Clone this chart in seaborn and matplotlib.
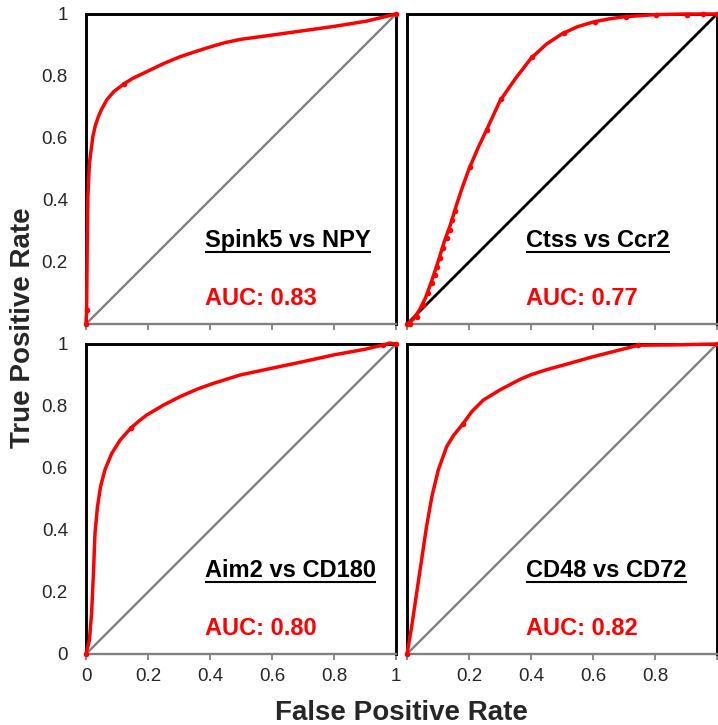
import matplotlib
matplotlib.use("Agg")
import matplotlib.pyplot as plt
import seaborn as sns
import pandas as pd

# --- ROC traces (fpr, tpr) ---
# Spink5 vs NPY
spink5_fpr = [0, 0.002, 0.004, 0.006, 0.011, 0.022, 0.030, 0.040, 0.050, 0.067, 0.090,
              0.123, 0.150, 0.196, 0.250, 0.303, 0.360, 0.411, 0.450, 0.497, 0.600,
              0.700, 0.800, 0.905, 1.0]
spink5_tpr = [0, 0.045, 0.26, 0.41, 0.518, 0.604, 0.640, 0.669, 0.692, 0.723, 0.750,
              0.775, 0.792, 0.814, 0.840, 0.862, 0.881, 0.897, 0.908, 0.918, 0.932,
              0.946, 0.960, 0.977, 1.0]
spink5_pts_fpr = [0, 0.002, 0.123, 1.0]
spink5_pts_tpr = [0, 0.045, 0.775, 1.0]

# Ctss vs Ccr2
ctss_fpr = [0, 0.02, 0.04, 0.06, 0.08, 0.10, 0.12, 0.14, 0.16, 0.18, 0.20, 0.23,
            0.26, 0.30, 0.35, 0.40, 0.45, 0.50, 0.55, 0.60, 0.65, 0.70, 0.80, 0.90, 1.0]
ctss_tpr = [0, 0.015, 0.045, 0.085, 0.14, 0.20, 0.265, 0.32, 0.385, 0.445, 0.50, 0.57,
            0.633, 0.72, 0.792, 0.857, 0.903, 0.936, 0.959, 0.974, 0.984, 0.991, 0.998,
            1.0, 1.0]
ctss_pts_fpr = [0, 0.010, 0.031, 0.051, 0.069, 0.080, 0.090, 0.098, 0.106, 0.115, 0.128,
                0.139, 0.146, 0.155, 0.203, 0.257, 0.304, 0.404, 0.505, 0.605, 0.705,
                0.804, 0.904, 0.954, 1.0]
ctss_pts_tpr = [0, 0.0, 0.024, 0.061, 0.099, 0.131, 0.158, 0.185, 0.212, 0.244, 0.276,
                0.303, 0.335, 0.365, 0.507, 0.626, 0.726, 0.862, 0.938, 0.975, 0.991,
                0.998, 0.998, 1.0, 1.0]

# Aim2 vs CD180
aim2_fpr = [0, 0.011, 0.018, 0.024, 0.029, 0.037, 0.047, 0.061, 0.083, 0.110, 0.144,
            0.170, 0.196, 0.250, 0.303, 0.360, 0.411, 0.497, 0.600, 0.700, 0.800,
            0.900, 0.959, 0.98, 1.0]
aim2_tpr = [0, 0.045, 0.131, 0.26, 0.389, 0.475, 0.54, 0.594, 0.647, 0.69, 0.728,
            0.751, 0.771, 0.803, 0.830, 0.855, 0.873, 0.900, 0.922, 0.943, 0.965,
            0.983, 0.997, 1.003, 1.0]
aim2_pts_fpr = [0, 0.144, 0.959, 1.0]
aim2_pts_tpr = [0, 0.728, 0.997, 1.0]

# CD48 vs CD72
cd48_fpr = [0, 0.015, 0.031, 0.047, 0.063, 0.080, 0.101, 0.128, 0.150, 0.180, 0.210,
            0.246, 0.300, 0.365, 0.400, 0.450, 0.526, 0.600, 0.687, 0.746, 0.850, 1.0]
cd48_tpr = [0, 0.088, 0.196, 0.303, 0.411, 0.507, 0.594, 0.669, 0.705, 0.742, 0.783,
            0.819, 0.852, 0.886, 0.901, 0.917, 0.938, 0.959, 0.981, 0.996, 0.997, 1.0]
cd48_pts_fpr = [0, 0.18, 0.746, 1.0]
cd48_pts_tpr = [0, 0.742, 0.996, 1.0]

panel_names = ["Spink5 vs NPY", "Ctss vs Ccr2", "Aim2 vs CD180", "CD48 vs CD72"]
auc_labels = ["AUC: 0.83", "AUC: 0.77", "AUC: 0.80", "AUC: 0.82"]
diag_colors = ["#808080", "black", "#808080", "#808080"]
tick_values = [0, 0.2, 0.4, 0.6, 0.8, 1]
tick_labels = ["0", "0.2", "0.4", "0.6", "0.8", "1"]

sns.set_theme(style="white")
plt.rcParams["font.family"] = ["Liberation Sans", "DejaVu Sans"]

fig = plt.figure(figsize=(7.18, 7.25), dpi=100)

# panel boxes in figure fractions (left, bottom, width, height)
W, H = 310 / 718, 310 / 725
boxes = [
    (86 / 718, 1 - 324 / 725, W, H),
    (407 / 718, 1 - 324 / 725, W, H),
    (86 / 718, 1 - 654 / 725, W, H),
    (407 / 718, 1 - 654 / 725, W, H),
]

curves = [
    (spink5_fpr, spink5_tpr, spink5_pts_fpr, spink5_pts_tpr),
    (ctss_fpr, ctss_tpr, ctss_pts_fpr, ctss_pts_tpr),
    (aim2_fpr, aim2_tpr, aim2_pts_fpr, aim2_pts_tpr),
    (cd48_fpr, cd48_tpr, cd48_pts_fpr, cd48_pts_tpr),
]

axes = []
titles = []
for i, box in enumerate(boxes):
    ax = fig.add_axes(box)
    cfpr, ctpr, pfpr, ptpr = curves[i]

    # chance line
    diag = pd.DataFrame({"fpr": [0, 1], "tpr": [0, 1]})
    sns.lineplot(data=diag, x="fpr", y="tpr", color=diag_colors[i],
                 lw=1.7 if i != 1 else 2.0, ax=ax, zorder=2)

    # smoothed ROC curve
    curve = pd.DataFrame({"fpr": cfpr, "tpr": ctpr})
    line = sns.lineplot(data=curve, x="fpr", y="tpr", sort=False, estimator=None,
                        color="#ff0000", lw=2.5, ax=ax, zorder=4, clip_on=False)
    ax.lines[-1].set_solid_joinstyle("round")

    # data points
    pts = pd.DataFrame({"fpr": pfpr, "tpr": ptpr})
    sns.scatterplot(data=pts, x="fpr", y="tpr", color="#ff0000", s=16,
                    linewidth=0, ax=ax, zorder=5, clip_on=False)

    ax.set_xlim(0, 1)
    ax.set_ylim(0, 1)
    ax.set_xlabel("")
    ax.set_ylabel("")

    for side in ["left", "top", "right"]:
        ax.spines[side].set_color("black")
        ax.spines[side].set_linewidth(2.1)
    ax.spines["bottom"].set_color("#808080")
    ax.spines["bottom"].set_linewidth(1.7)

    ax.set_xticks(tick_values)
    ax.set_yticks(tick_values)
    ax.tick_params(axis="x", bottom=True, length=4, width=1.3, color="#808080",
                   direction="out", labelsize=13.5, pad=6)
    ax.tick_params(axis="y", left=False, length=0, labelsize=13.5, pad=13)

    if i == 0:
        ax.set_yticklabels([""] + tick_labels[1:])
    elif i == 2:
        ax.set_yticklabels(tick_labels)
    else:
        ax.tick_params(axis="y", labelleft=False)

    if i == 2:
        ax.set_xticklabels(tick_labels)
    elif i == 3:
        ax.set_xticklabels([""] + tick_labels[1:-1] + [""])
    else:
        ax.tick_params(axis="x", labelbottom=False)

    t = ax.text(0.385, 0.249, panel_names[i], transform=ax.transAxes,
                fontsize=17, fontweight="bold", color="black",
                ha="left", va="baseline")
    ax.text(0.385, 0.061, auc_labels[i], transform=ax.transAxes,
            fontsize=17, fontweight="bold", color="#ff0000",
            ha="left", va="baseline")
    axes.append(ax)
    titles.append(t)

fig.text(23 / 718, 1 - 328 / 725, "True Positive Rate", rotation=90,
         fontsize=20, fontweight="bold", ha="center", va="center")
fig.text(401.5 / 718, 1 - 712.5 / 725, "False Positive Rate",
         fontsize=20, fontweight="bold", ha="center", va="center")

# underline the panel titles using their rendered extent
fig.canvas.draw()
renderer = fig.canvas.get_renderer()
for ax, t in zip(axes, titles):
    bb = t.get_window_extent(renderer)
    inv = ax.transAxes.inverted()
    (x0, _), (x1, _) = inv.transform([[bb.x0, bb.y0], [bb.x1, bb.y0]])
    ax.plot([x0, x1], [0.233, 0.233], color="black", lw=1.5,
            transform=ax.transAxes, clip_on=False, solid_capstyle="butt")

fig.savefig("out.png", dpi=100)
